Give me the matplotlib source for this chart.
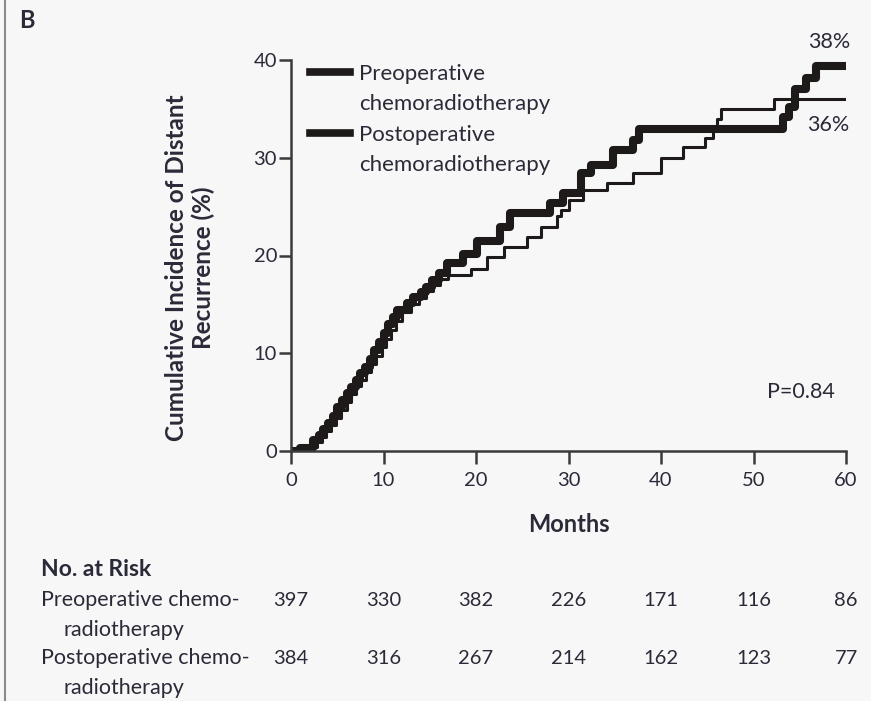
import numpy as np
import matplotlib.pyplot as plt
from matplotlib.lines import Line2D

# Cumulative incidence of distant recurrence
pre_months = [0, 1.5, 2.8, 3.3, 3.8, 4.3, 4.9, 5.4, 6.0, 6.5, 7.0, 7.6, 8.1, 8.7, 9.2, 9.8,
              10.3, 10.8, 11.4, 12.0, 13.0, 13.8, 14.6, 15.3, 16.1, 17.0, 19.5, 21.2, 23.0,
              25.5, 27.0, 28.8, 29.2, 30.0, 31.6, 34.2, 37.0, 40.0, 42.4, 44.8, 45.6, 46.0,
              46.5, 52.2, 60.0]
pre_pct = [0, 0.4, 0.9, 1.4, 2.0, 2.7, 3.4, 4.2, 5.0, 5.8, 6.6, 7.3, 8.1, 8.9, 9.7, 10.6,
           11.5, 12.4, 13.3, 14.2, 15.0, 15.7, 16.4, 17.0, 17.6, 18.0, 18.6, 19.8, 20.9,
           21.9, 22.9, 24.0, 24.7, 25.7, 26.7, 27.4, 28.4, 30.0, 31.1, 32.0, 33.0, 34.0,
           35.0, 36.0, 36.0]

post_months = [0, 1.0, 2.4, 3.0, 3.5, 4.0, 4.5, 5.0, 5.5, 6.0, 6.5, 7.0, 7.5, 8.0, 8.5,
               9.0, 9.5, 10.0, 10.5, 11.0, 11.5, 12.5, 13.2, 14.0, 14.6, 15.2, 16.0, 16.9,
               18.6, 20.1, 22.6, 23.7, 28.0, 29.4, 31.3, 32.4, 34.8, 37.0, 37.6, 53.2, 53.8,
               54.5, 55.7, 56.8, 60.0]
post_pct = [0, 0.3, 1.1, 1.6, 2.2, 2.9, 3.6, 4.5, 5.2, 5.9, 6.5, 7.3, 8.0, 8.6, 9.4,
            10.3, 11.2, 12.1, 13.0, 13.7, 14.4, 15.1, 15.8, 16.3, 16.8, 17.5, 18.2, 19.2,
            20.2, 21.5, 22.9, 24.3, 25.4, 26.4, 28.4, 29.3, 30.8, 31.8, 32.9, 34.2, 35.2,
            37.0, 38.2, 39.4, 39.4]

risk_months = [0, 10, 20, 30, 40, 50, 60]
risk_pre = [397, 330, 382, 226, 171, 116, 86]
risk_post = [384, 316, 267, 214, 162, 123, 77]

plt.rcParams['font.family'] = ['Lato', 'DejaVu Sans']
txt = '#2a2a38'
bg = '#f7f7f7'
ink = '#1e1a1a'

fig = plt.figure(figsize=(8.71, 7.01), dpi=100, facecolor=bg)
ax = fig.add_axes([291 / 871, 250 / 701, 555 / 871, 391 / 701])
ax.set_facecolor(bg)

ax.step(pre_months, pre_pct, where='post', color=ink, lw=2.2)
ax.step(post_months, post_pct, where='post', color=ink, lw=5.8)

ax.set_xlim(0, 60)
ax.set_ylim(0, 40)
ax.set_xticks(range(0, 61, 10))
ax.set_yticks(range(0, 41, 10))
for side in ['top', 'right']:
    ax.spines[side].set_visible(False)
for side in ['left', 'bottom']:
    ax.spines[side].set_linewidth(1.8)
    ax.spines[side].set_color('#3a3a3a')
ax.tick_params(direction='out', length=9, width=1.8, color='#3a3a3a',
               labelsize=14.5, labelcolor=txt)
ax.tick_params(axis='x', pad=6)
ax.tick_params(axis='y', pad=1)

ax.set_xlabel('Months', fontsize=17, fontweight='bold', color=txt)
ax.xaxis.set_label_coords(0.5, (451 - 513) / 391)
ax.text(-0.182, 0.468, 'Cumulative Incidence of Distant\nRecurrence (%)',
        transform=ax.transAxes, rotation=90, ha='center', va='center',
        fontsize=17.5, fontweight='bold', color=txt, linespacing=1.2)

# legend: second line of each label as its own row so the handle sits on the first line
blank = Line2D([], [], color='none')
handles = [Line2D([], [], color=ink, lw=5.5), blank,
           Line2D([], [], color=ink, lw=5.5), blank]
labels = ['Preoperative', 'chemoradiotherapy', 'Postoperative', 'chemoradiotherapy']
leg = ax.legend(handles, labels, loc='upper left', bbox_to_anchor=(0.034, 0.99),
                frameon=False, fontsize=16, handlelength=1.8, handletextpad=0.4,
                labelspacing=0.47, borderpad=0, borderaxespad=0, labelcolor=txt)

ax.text(58.2, 41.8, '38%', ha='center', va='center', fontsize=15.5, color=txt, clip_on=False)
ax.text(58.1, 33.4, '36%', ha='center', va='center', fontsize=15.5, color=txt)
ax.text(58.8, 6.0, 'P=0.84', ha='right', va='center', fontsize=15.5, color=txt)

fig.text(27 / 871, 1 - 21 / 701, 'B', fontsize=17, fontweight='bold', color=txt,
         ha='center', va='center')

# number at risk table
trans = ax.get_xaxis_transform()
def ay(py):
    return (451 - py) / 391

ax.text(-27.0, ay(570), 'No. at Risk', transform=trans, fontsize=16.5, fontweight='bold',
        color=txt, ha='left', va='center', clip_on=False)
rows = [('Preoperative chemo-', 600, 630, risk_pre),
        ('Postoperative chemo-', 658, 688, risk_post)]
for label, y1, y2, counts in rows:
    ax.text(-27.0, ay(y1), label, transform=trans, fontsize=15.5,
            color=txt, ha='left', va='center')
    ax.text(-24.6, ay(y2), 'radiotherapy', transform=trans, fontsize=15.5,
            color=txt, ha='left', va='center')
    for m, n in zip(risk_months, counts):
        ax.text(m, ay(y1), str(n), transform=trans, fontsize=14.5, color=txt,
                ha='center', va='center')

# panel frame on the left edge
fig.add_artist(Line2D([4.5 / 871, 4.5 / 871], [0, 1], color='#8a8a8a', lw=1.5))

fig.savefig('out.png', dpi=100, facecolor=bg)
